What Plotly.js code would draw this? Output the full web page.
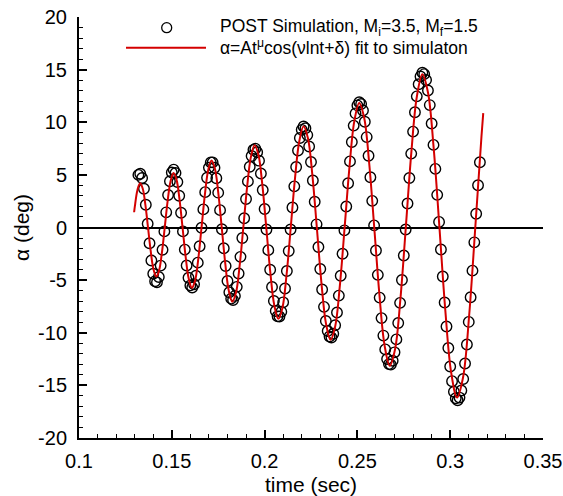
<!DOCTYPE html>
<html><head><meta charset="utf-8">
<script src="https://cdn.plot.ly/plotly-3.0.1.min.js"></script>
<style>html,body{margin:0;padding:0;background:#fff}#chart{width:563px;height:496px}</style>
</head><body><div id="chart"></div>
<script>
// POST simulation samples (time in sec, alpha in deg)
const simTime = [0.132,0.133,0.134,0.135,0.136,0.137,0.138,0.139,0.140,0.141,0.142,0.143,0.144,0.145,0.146,0.147,0.148,0.149,0.150,
0.151,0.152,0.153,0.154,0.155,0.156,0.157,0.158,0.159,0.160,0.161,0.162,0.163,0.164,0.165,0.166,0.167,0.168,0.169,0.170,
0.171,0.172,0.173,0.174,0.175,0.176,0.177,0.178,0.179,0.180,0.181,0.182,0.183,0.184,0.185,0.186,0.187,0.188,0.189,0.190,
0.191,0.192,0.193,0.194,0.195,0.196,0.197,0.198,0.199,0.200,0.201,0.202,0.203,0.204,0.205,0.206,0.207,0.208,0.209,0.210,
0.211,0.212,0.213,0.214,0.215,0.216,0.217,0.218,0.219,0.220,0.221,0.222,0.223,0.224,0.225,0.226,0.227,0.228,0.229,0.230,
0.231,0.232,0.233,0.234,0.235,0.236,0.237,0.238,0.239,0.240,0.241,0.242,0.243,0.244,0.245,0.246,0.247,0.248,0.249,0.250,
0.251,0.252,0.253,0.254,0.255,0.256,0.257,0.258,0.259,0.260,0.261,0.262,0.263,0.264,0.265,0.266,0.267,0.268,0.269,0.270,
0.271,0.272,0.273,0.274,0.275,0.276,0.277,0.278,0.279,0.280,0.281,0.282,0.283,0.284,0.285,0.286,0.287,0.288,0.289,0.290,
0.291,0.292,0.293,0.294,0.295,0.296,0.297,0.298,0.299,0.300,0.301,0.302,0.303,0.304,0.305,0.306,0.307,0.308,0.309,0.310,
0.311,0.312,0.313,0.314,0.315,0.316];
const simAlpha = [5.0,5.10,4.71,3.68,2.16,0.36,-1.49,-3.14,-4.40,-5.11,-5.21,-4.70,-3.62,-2.12,-0.37,1.44,3.09,4.39,5.23,
5.50,5.18,4.32,3.01,1.40,-0.37,-2.10,-3.61,-4.78,-5.50,-5.70,-5.39,-4.58,-3.34,-1.78,-0.03,1.72,3.36,4.73,5.69,
6.19,6.19,5.68,4.68,3.31,1.65,-0.16,-1.97,-3.66,-5.09,-6.15,-6.76,-6.89,-6.50,-5.64,-4.37,-2.79,-1.00,0.88,2.71,
4.38,5.77,6.80,7.38,7.49,7.15,6.35,5.13,3.56,1.76,-0.19,-2.15,-4.01,-5.65,-6.99,-7.93,-8.44,-8.46,-8.01,-7.11,
-5.80,-4.13,-2.24,-0.19,1.90,3.91,5.75,7.31,8.51,9.28,9.60,9.43,8.78,7.70,6.23,4.46,2.44,0.30,-1.85,-3.95,
-5.89,-7.54,-8.88,-9.83,-10.36,-10.45,-10.09,-9.29,-8.07,-6.47,-4.59,-2.49,-0.27,1.99,4.21,6.28,8.12,9.68,10.84,11.60,
11.90,11.73,11.11,10.05,8.59,6.82,4.77,2.53,0.20,-2.18,-4.50,-6.66,-8.61,-10.27,-11.58,-12.49,-12.98,-13.03,-12.66,-11.86,
-10.63,-9.07,-7.16,-4.99,-2.66,-0.19,2.28,4.70,7.02,9.11,10.95,12.46,13.61,14.35,14.70,14.57,14.01,13.02,11.63,9.88,
7.85,5.57,3.10,0.53,-2.09,-4.65,-7.13,-9.41,-11.45,-13.20,-14.60,-15.60,-16.23,-16.41,-16.16,-15.48,-14.40,-12.92,-11.11,-8.97,
-6.62,-4.10,-1.41,1.30,4.01,6.2];

// Fit curve alpha = A t^mu cos(nu ln t + delta)
const fitTime = [0.1297,0.13011,0.13150,0.13290,0.13432,0.13575,0.13719,0.13865,0.14013,0.14162,0.14313,0.14466,0.14620,
0.14775,0.14933,0.15092,0.15253,0.15415,0.15579,0.15745,0.15913,0.16082,0.16254,0.16427,0.16602,0.16779,0.16957,
0.17138,0.17321,0.17505,0.17691,0.17880,0.18070,0.18263,0.18457,0.18654,0.18853,0.19054,0.19257,0.19462,0.19669,
0.19879,0.20090,0.20304,0.20521,0.20739,0.20960,0.21183,0.21409,0.21637,0.21868,0.22100,0.22336,0.22574,0.22814,
0.23057,0.23303,0.23551,0.23802,0.24055,0.24312,0.24571,0.24832,0.25097,0.25364,0.25634,0.25908,0.26184,0.26462,
0.26744,0.27029,0.27317,0.27608,0.27902,0.28200,0.28500,0.28803,0.29110,0.29420,0.29734,0.30050,0.30371,0.30694,
0.31021,0.31352,0.31685,0.3178];
const fitAlpha = [1.45,2.03,3.57,4.20,3.70,2.17,0,-2.25,-3.97,-4.66,-4.10,-2.41,0,
2.50,4.40,5.17,4.55,2.67,0,-2.77,-4.88,-5.73,-5.05,-2.97,0,3.07,5.41,
6.36,5.60,3.29,0,-3.41,-6.00,-7.05,-6.21,-3.65,0,3.78,6.66,7.82,6.89,
4.05,0,-4.19,-7.38,-8.68,-7.64,-4.49,0,4.65,8.19,9.62,8.48,4.98,0,
-5.16,-9.08,-10.67,-9.40,-5.52,0,5.72,10.08,11.84,10.43,6.13,0,-6.34,-11.18,
-13.13,-11.57,-6.80,0,7.04,12.40,14.56,12.83,7.54,0,-7.80,-13.75,-16.15,-14.23,
-8.36,0,8.65,10.86];

const xTickVals = [0.1,0.15,0.2,0.25,0.3,0.35];
const xTickText = ["0.1","0.15","0.2","0.25","0.3","0.35"];
const yTickVals = [-20,-15,-10,-5,0,5,10,15,20];
const yTickText = ["-20","-15","-10","-5","0","5","10","15","20"];
const simName = "POST Simulation, M<sub>i</sub>=3.5, M<sub>f</sub>=1.5";
const fitName = "α=At<sup>μ</sup>cos(νlnt+δ) fit to simulaton";
const xTitle = "time (sec)";
const yTitle = "α (deg)";

const FONT = "Liberation Sans, Arial, Helvetica, sans-serif";
const RED = "#d40000";

const traces = [
  {x: simTime, y: simAlpha, type: "scatter", mode: "markers", name: simName, showlegend: false,
   marker: {symbol: "circle-open", size: 10.5, color: "#000", line: {width: 1.4, color: "#000"}}},
  {x: fitTime, y: fitAlpha, type: "scatter", mode: "lines", name: fitName, showlegend: false,
   line: {color: RED, width: 2, shape: "spline", smoothing: 1}}
];

const axisCommon = {
  showgrid: false, showline: true, linecolor: "#000", linewidth: 2,
  ticks: "inside", ticklen: 8, tickwidth: 2, tickcolor: "#000",
  tickfont: {family: FONT, size: 20, color: "#000"}, mirror: false
};

const layout = {
  width: 563, height: 496,
  margin: {l: 79, r: 20, t: 17, b: 58},
  paper_bgcolor: "#fff", plot_bgcolor: "#fff",
  font: {family: FONT, color: "#000"},
  showlegend: false,
  xaxis: Object.assign({}, axisCommon, {
    range: [0.1, 0.35], tickmode: "array", tickvals: xTickVals, ticktext: xTickText,
    zeroline: false, ticklabelstandoff: 4,
    minor: {ticks: "inside", ticklen: 4, tickwidth: 1, tickcolor: "#000", tickmode: "linear", tick0: 0.1, dtick: 0.01, showgrid: false},
    title: {text: xTitle, font: {family: FONT, size: 21, color: "#000"}, standoff: 6}
  }),
  yaxis: Object.assign({}, axisCommon, {
    range: [-20, 20], tickmode: "array", tickvals: yTickVals, ticktext: yTickText,
    zeroline: true, zerolinecolor: "#000", zerolinewidth: 2, ticklabelstandoff: 6,
    minor: {ticks: "inside", ticklen: 4, tickwidth: 1, tickcolor: "#000", tickmode: "linear", tick0: -20, dtick: 1, showgrid: false},
    title: {text: yTitle, font: {family: FONT, size: 21, color: "#000"}, standoff: 3}
  }),
  shapes: [
    {type: "circle", xref: "paper", yref: "paper", xsizemode: "pixel", ysizemode: "pixel",
     xanchor: 0.189, yanchor: 0.9746, x0: -5, x1: 5, y0: -5, y1: 5, line: {color: "#000", width: 1.3}},
    {type: "line", xref: "paper", yref: "paper", x0: 0.1013, x1: 0.2737, y0: 0.9271, y1: 0.9271,
     line: {color: RED, width: 2}}
  ],
  annotations: [
    {xref: "paper", yref: "paper", x: 0.300, y: 0.9762, xanchor: "left", yanchor: "middle", showarrow: false,
     text: simName, font: {family: FONT, size: 17.5, color: "#000"}},
    {xref: "paper", yref: "paper", x: 0.300, y: 0.9276, xanchor: "left", yanchor: "middle", showarrow: false,
     text: fitName, font: {family: FONT, size: 17.5, color: "#000"}}
  ]
};

Plotly.newPlot("chart", traces, layout, {staticPlot: true, displayModeBar: false});
</script>
</body></html>
